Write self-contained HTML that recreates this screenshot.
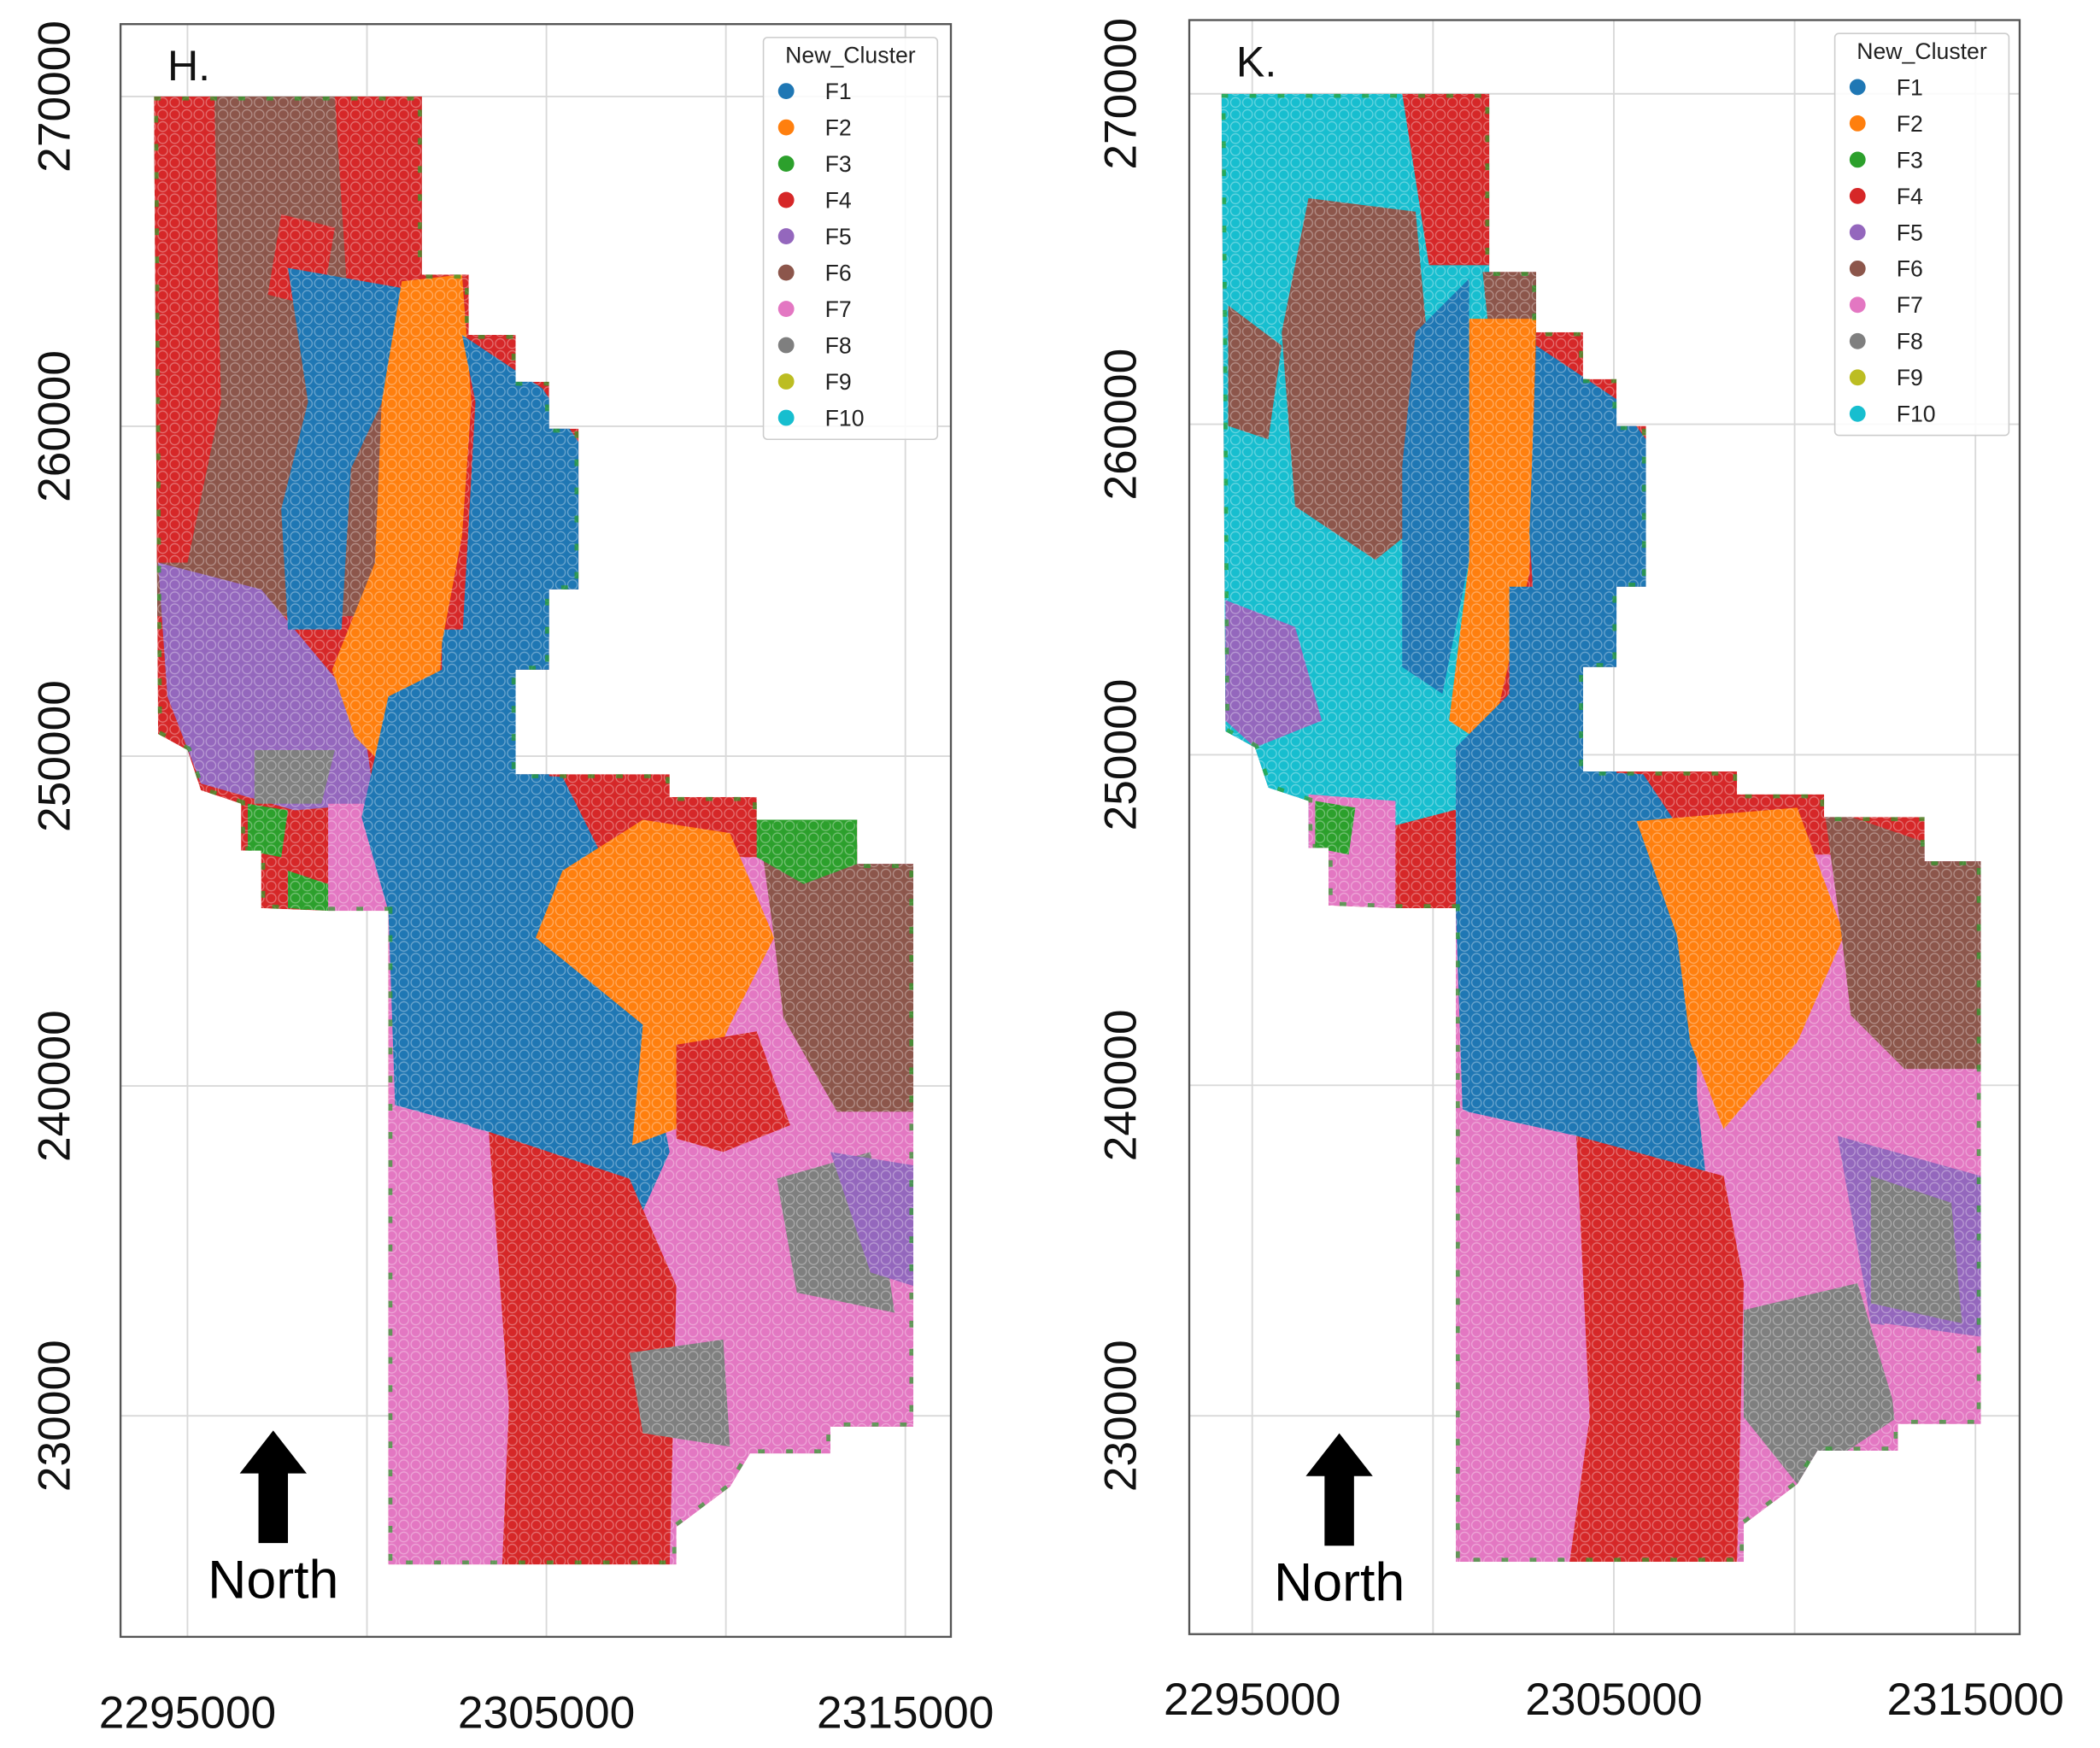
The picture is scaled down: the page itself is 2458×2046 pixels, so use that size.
<!DOCTYPE html>
<html><head><meta charset="utf-8"><style>
html,body{margin:0;padding:0;background:#fff}
svg{display:block}
text{font-family:"Liberation Sans",sans-serif}
</style></head><body>
<svg id="chart" width="2458" height="2046" viewBox="0 0 1568 1305" preserveAspectRatio="none" xmlns="http://www.w3.org/2000/svg">
<defs>
<pattern id="dots" width="9" height="9" patternUnits="userSpaceOnUse">
<circle cx="4.5" cy="4.5" r="3.6" fill="none" stroke="#ffffff" stroke-opacity="0.35" stroke-width="0.8"/>
</pattern>
</defs>
</svg>
<script>
const xTicks=[2295000,2305000,2315000];
const xGrid=[2295000,2300000,2305000,2310000,2315000];
const yTicks=[230000,240000,250000,260000,270000];
const categories=["F1","F2","F3","F4","F5","F6","F7","F8","F9","F10"];
const colors=["#1f77b4","#ff7f0e","#2ca02c","#d62728","#9467bd","#8c564b","#e377c2","#7f7f7f","#bcbd22","#17becf"];
const outline=[[115,72],[315,72],[315,205],[350,205],[350,250],[385,250],[385,285],[410,285],[410,320],[432,320],[432,440],[410,440],[410,500],[385,500],[385,578],[500,578],[500,595],[565,595],[565,612],[640,612],[640,645],[682,645],[682,1065],[620,1065],[620,1085],[560,1085],[545,1110],[505,1140],[505,1168],[290,1168],[290,680],[245,680],[195,678],[195,635],[180,635],[180,600],[150,590],[140,560],[118,548]];
const regionsH=[
[3,outline],
[0,[[330,470],[410,470],[410,580],[330,580]]],
[6,[[290,640],[682,640],[682,1065],[620,1085],[545,1110],[505,1168],[290,1168]]],
[5,[[115,72],[315,72],[315,460],[115,460]]],
[3,[[250,72],[315,72],[315,230],[260,230]]],
[3,[[115,72],[160,72],[165,300],[140,420],[115,420]]],
[3,[[210,160],[250,170],[240,230],[200,220]]],
[4,[[118,420],[195,440],[270,530],[280,600],[220,605],[150,585],[125,520]]],
[7,[[190,560],[250,560],[240,600],[190,600]]],
[6,[[245,600],[295,600],[290,680],[245,680]]],
[2,[[185,600],[215,605],[210,640],[185,635]]],
[2,[[215,650],[245,660],[245,680],[215,678]]],
[0,[[215,200],[300,215],[290,290],[262,350],[255,470],[215,470],[210,380],[230,300]]],
[1,[[300,210],[345,205],[352,300],[345,400],[330,480],[325,560],[300,585],[265,550],[248,500],[280,420],[285,300]]],
[0,[[345,250],[405,290],[432,330],[432,440],[395,500],[345,480],[355,300]]],
[0,[[290,520],[330,500],[385,500],[385,578],[420,580],[450,640],[400,700],[480,760],[500,860],[475,915],[420,890],[350,840],[295,825],[290,680],[270,610]]],
[1,[[420,650],[480,612],[545,622],[578,700],[545,765],[512,840],[472,855],[480,765],[400,700]]],
[5,[[565,605],[682,645],[682,830],[625,830],[585,760],[578,700]]],
[6,[[290,825],[365,845],[380,1050],[375,1168],[290,1168]]],
[3,[[365,845],[470,880],[505,960],[500,1168],[375,1168],[380,1050]]],
[3,[[505,780],[565,770],[590,840],[540,860],[505,850]]],
[6,[[505,960],[600,900],[682,940],[682,1065],[620,1085],[545,1110],[505,1060]]],
[7,[[580,880],[650,860],[668,980],[595,965]]],
[4,[[620,860],[682,870],[682,960],[650,950]]],
[7,[[470,1010],[540,1000],[545,1080],[480,1070]]],
[2,[[565,600],[640,612],[640,645],[600,660],[565,640]]]
];
const regionsK=[
[3,outline],
[6,[[290,640],[682,640],[682,1065],[620,1085],[545,1110],[505,1168],[290,1168]]],
[9,[[115,72],[315,72],[315,600],[180,635],[150,590],[118,548]]],
[5,[[180,150],[260,160],[280,380],[230,420],[170,380],[160,250]]],
[3,[[250,72],[315,72],[315,200],[270,200]]],
[5,[[120,230],[160,260],[150,330],[120,320]]],
[4,[[118,450],[170,470],[190,540],[140,560],[118,540]]],
[6,[[180,595],[245,600],[245,680],[195,678],[180,635]]],
[2,[[185,600],[215,605],[210,640],[185,635]]],
[5,[[310,205],[350,205],[350,300],[320,300]]],
[0,[[260,250],[300,210],[300,420],[280,520],[250,500],[250,350]]],
[1,[[300,240],[350,240],[345,430],[315,560],[285,540],[300,420]]],
[0,[[330,440],[410,440],[410,580],[330,580]]],
[0,[[350,260],[410,300],[432,330],[432,440],[395,500],[350,480],[345,400]]],
[0,[[290,560],[330,520],[385,500],[385,578],[430,580],[470,640],[470,820],[480,910],[420,880],[350,860],[295,830],[290,680]]],
[1,[[425,615],[545,605],[580,700],[545,780],[490,845],[465,780],[455,700]]],
[5,[[565,605],[682,645],[682,800],[625,800],[585,760],[578,700]]],
[6,[[290,830],[380,850],[390,1060],[375,1168],[290,1168]]],
[3,[[380,850],[490,880],[505,960],[500,1168],[375,1168],[390,1060]]],
[7,[[505,980],[590,960],[620,1060],[545,1110],[505,1060]]],
[4,[[575,850],[682,880],[682,1000],[600,990]]],
[7,[[600,880],[660,900],[668,990],[600,975]]],
[6,[[610,990],[682,1000],[682,1065],[620,1085]]]
];
const svg=document.getElementById('chart');
const NS="http://www.w3.org/2000/svg";
function mk(tag,attrs,parent){const e=document.createElementNS(NS,tag);for(const k in attrs)e.setAttribute(k,attrs[k]);(parent||svg).appendChild(e);return e;}
const panels=[
 {id:'h',label:'H.',box:[90,18,710,1222],dx:0,dy:0,regions:regionsH,xt:[140,676],yt:[1057,72],tickX:1290,tickY:52,leg:[570,28],north:[204,1068]},
 {id:'k',label:'K.',box:[888,15,1508,1220],dx:797,dy:-2,regions:regionsK,xt:[935,1475],yt:[1057,70],tickX:1280,tickY:848,leg:[1370,25],north:[1000,1070]}
];
panels.forEach(p=>{
 const xs=v=>p.xt[0]+(v-xTicks[0])/(xTicks[2]-xTicks[0])*(p.xt[1]-p.xt[0]);
 const ys=v=>p.yt[0]+(v-yTicks[0])/(yTicks[4]-yTicks[0])*(p.yt[1]-p.yt[0]);
 const g=mk('g',{});
 
 
 const [x0,y0,x1,y1]=p.box;
 xGrid.forEach(v=>{const l=mk('line',{x1:xs(v),x2:xs(v),y1:y0,y2:y1,stroke:'#d9d9d9','stroke-width':1.2},g);
  });
 yTicks.forEach(v=>{const l=mk('line',{x1:x0,x2:x1,y1:ys(v),y2:ys(v),stroke:'#d9d9d9','stroke-width':1.2},g);
  });
 const fr=mk('rect',{x:x0,y:y0,width:x1-x0,height:y1-y0,fill:'none',stroke:'#555','stroke-width':1.5},g);
 
 const clip=mk('clipPath',{id:'clip'+p.id},g);
 const pts=pp=>pp.map(q=>(q[0]+p.dx)+','+(q[1]+p.dy)).join(' ');
 mk('polygon',{points:pts(outline)},clip);
 const rg=mk('g',{'clip-path':'url(#clip'+p.id+')'},g);
 
 p.regions.forEach(r=>{const e=mk('polygon',{points:pts(r[1]),fill:colors[r[0]],'stroke-linejoin':'round'},rg);
  });
 mk('polygon',{points:pts(outline),fill:'url(#dots)'},rg);
 const ol=mk('polygon',{points:pts(outline),fill:'none',stroke:'#2ca02c','stroke-width':6,'stroke-dasharray':'5 16','stroke-opacity':0.7},rg);
 
 xTicks.forEach(v=>{const t=mk('text',{x:xs(v),y:p.tickX,'font-size':34,'text-anchor':'middle',fill:'#111'},g);t.textContent=v;
  });
 yTicks.forEach(v=>{const t=mk('text',{x:p.tickY,y:ys(v),'font-size':34,'text-anchor':'middle',fill:'#111',transform:`rotate(-90 ${p.tickY} ${ys(v)})`},g);t.textContent=v;
  });
 const pl=mk('text',{x:x0+35,y:y0+42,'font-size':32,fill:'#111'},g);pl.textContent=p.label;
 
 const lg=mk('g',{},g);
 const [lx,ly]=p.leg;
 mk('rect',{x:lx,y:ly,width:130,height:300,fill:'#fff','fill-opacity':0.85,stroke:'#ccc','stroke-width':1,rx:3},lg);
 const lt=mk('text',{x:lx+65,y:ly+19,'font-size':17,'text-anchor':'middle',fill:'#222'},lg);lt.textContent='New_Cluster';
 
 categories.forEach((c,i)=>{const e=mk('g',{},lg);
  
  const cy=ly+40+i*27.1;
  mk('circle',{cx:lx+17,cy:cy,r:6,fill:colors[i]},e);
  const t=mk('text',{x:lx+46,y:cy+6,'font-size':17,fill:'#222'},e);t.textContent=c;});
 const [nx,ny]=p.north;
 const ar=mk('polygon',{points:`${nx},${ny} ${nx+25},${ny+32} ${nx+11},${ny+32} ${nx+11},${ny+84} ${nx-11},${ny+84} ${nx-11},${ny+32} ${nx-25},${ny+32}`,fill:'#000'},g);
 
 const nt=mk('text',{x:nx,y:ny+125,'font-size':40,'text-anchor':'middle',fill:'#000'},g);nt.textContent='North';
 
});
</script>
</body></html>
